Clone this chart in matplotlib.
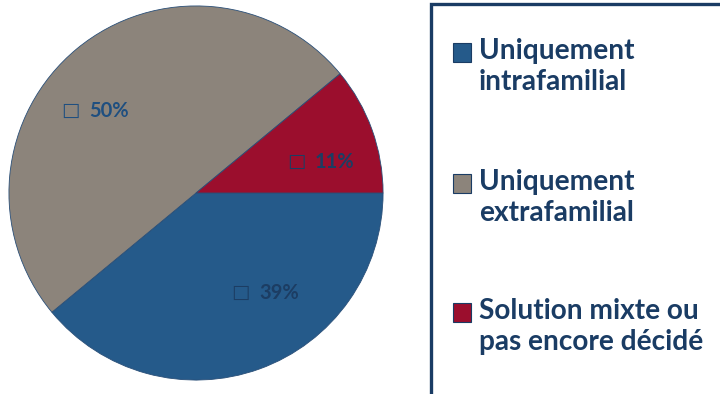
import matplotlib
matplotlib.use('Agg')
import matplotlib.pyplot as plt
from matplotlib.patches import Rectangle

# data (legend order)
labels = ['Uniquement\nintrafamilial', 'Uniquement\nextrafamilial',
          'Solution mixte ou\npas encore décidé']
shares = [39, 50, 11]
colors = ['#255a8a', '#8c847b', '#9b0e2d']

# where the percentage tags sit inside the pie (data units, radius 1)
tag_pos = [(0.239, -0.537), (-0.670, 0.436), (0.537, 0.165)]
tag_colors = ['#1c3d63', '#1f4f80', '#1c3d63']

navy = '#1a3c64'

fig = plt.figure(figsize=(7.2, 3.94), dpi=100)
ax = fig.add_axes([8 / 720, 13 / 394, 376 / 720, 376 / 394])
wedges, _ = ax.pie(shares, colors=colors, startangle=0, counterclock=False,
                   wedgeprops=dict(edgecolor='#2a4f78', linewidth=0.6))
ax.set_xlim(-1.005, 1.005)
ax.set_ylim(-1.005, 1.005)
ax.set_aspect('equal')
ax.axis('off')

for (x, y), v, c in zip(tag_pos, shares, tag_colors):
    ax.text(x, y + 0.005, '\u25a1', ha='center', va='center', color=c,
            fontsize=14, family='DejaVu Sans')
    ax.text(x + 0.10, y, f'{v}%', ha='left', va='center', color=c,
            fontsize=14.5, fontweight='bold', family='Lato')

# legend box, running off the right and bottom edges
fig.patches.append(Rectangle((431 / 720, -0.1), 0.5, 1.1 - 4 / 394,
                             transform=fig.transFigure, fill=False,
                             edgecolor=navy, linewidth=2.4))

entry_tops = [42, 173, 302]
for lab, c, top in zip(labels, colors, entry_tops):
    fig.patches.append(Rectangle((453 / 720, 1 - (top + 20) / 394), 18 / 720, 19 / 394,
                                 transform=fig.transFigure, facecolor=c,
                                 edgecolor=navy, linewidth=0.8))
    fig.text(479 / 720, 1 - (top - 4) / 394, lab, ha='left', va='top',
             color=navy, fontsize=20.2, fontweight='bold', family='Lato',
             linespacing=1.25)

fig.savefig('out.png', dpi=100)
